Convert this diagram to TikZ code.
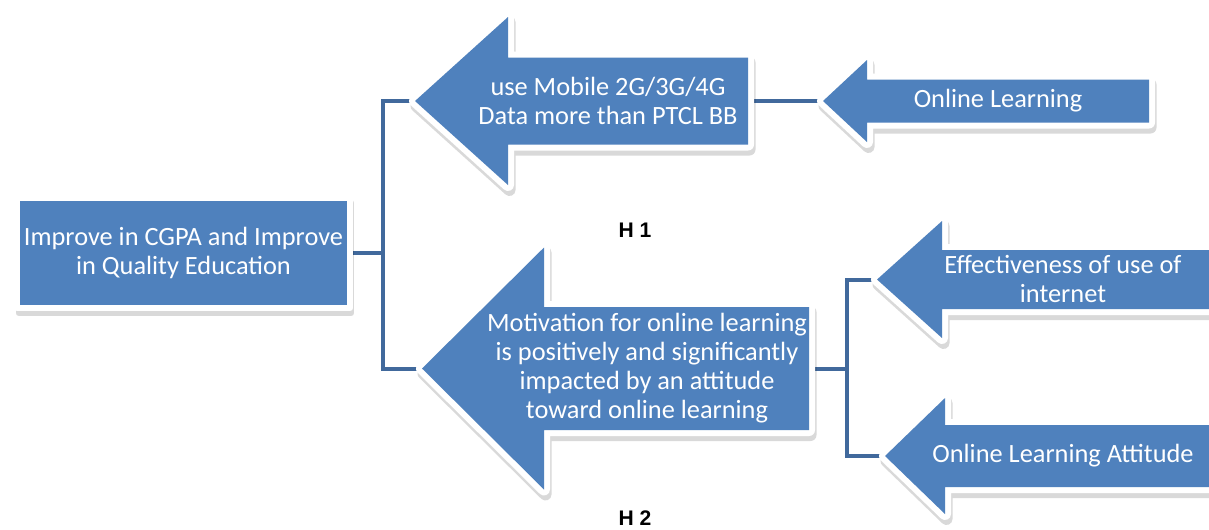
\documentclass[tikz,border=0pt]{standalone}
\usepackage{fontspec}
\setmainfont{Carlito}
\newfontfamily\hypfont{Liberation Sans}
\usepackage{tikz}
\usetikzlibrary{positioning,calc}

\definecolor{boxblue}{HTML}{4F81BD}
\definecolor{linkblue}{HTML}{41699C}

\pgfdeclarelayer{background}
\pgfsetlayers{background,main}

\tikzset{
  halo/.style={preaction={draw=black,draw opacity=0.15,fill=none,line width=#1,line join=round,
      transform canvas={shift={(0.03cm,-0.1cm)}}}},
  arrowedge/.style={halo=0.24cm,draw=white,line width=0.24cm,line join=round},
  goalbox/.style={halo=0.12cm,draw=white,line width=0.12cm,line join=round,fill=boxblue,
      text=white,align=center,inner sep=0pt,minimum width=6.66cm,minimum height=2.2cm,
      font=\fontsize{15}{16.5}\selectfont},
  intext/.style={text=white,align=center,inner sep=0pt,font=\fontsize{15}{16.5}\selectfont},
  link/.style={draw=linkblue,line width=0.08cm},
  hyp/.style={inner sep=0pt,font=\hypfont\bfseries\fontsize{12}{14}\selectfont}
}

% block arrow pointing left: name, tip x, mid y, head x, end x, half shaft, half head
\newcommand{\bigarrow}[7]{%
  \path[arrowedge] (#2,#3) -- (#4,#3-#7) -- (#4,#3-#6) -- (#5,#3-#6) -- (#5,#3+#6)
    -- (#4,#3+#6) -- (#4,#3+#7) -- cycle;
  \fill[boxblue] (#2,#3) -- (#4,#3-#7) -- (#4,#3-#6) -- (#5,#3-#6) -- (#5,#3+#6)
    -- (#4,#3+#6) -- (#4,#3+#7) -- cycle;
  \coordinate (#1-tip) at (#2,#3);
  \coordinate (#1-tail) at (#5,#3);}

\begin{document}
\begin{tikzpicture}[x=0.02cm,y=-0.02cm]
  \path[use as bounding box,clip] (0,0) rectangle (1209,529);

  \node[goalbox] (goal) at (183.5,253) {Improve in CGPA and Improve\\in Quality Education};

  \bigarrow{mob}{415}{101}{508}{748}{43.5}{84}
  \bigarrow{onl}{823}{101}{867}{1149}{21.5}{41}
  \bigarrow{mot}{422}{368.5}{544}{809}{61.5}{121}
  \bigarrow{eff}{877}{279.5}{942}{1240}{29.5}{58.5}
  \bigarrow{att}{885}{456}{945}{1240}{31}{58}

  \node[intext] (mob) at (608,101) {use Mobile 2G/3G/4G\\Data more than PTCL BB};
  \node[intext] (onl) at (998,101) {Online Learning};
  \node[intext] (mot) at (647,368.5) {Motivation for online learning\\is positively and significantly\\impacted by an attitude\\toward online learning};
  \node[intext] (eff) at (1063,278.5) {Effectiveness of use of\\internet};
  \node[intext] (att) at (1063,456) {Online Learning Attitude};

  \node[hyp] (h1) at (635,230) {H 1};
  \node[hyp] (h2) at (635,518) {H 2};

  \begin{pgfonlayer}{background}
    \coordinate (fork1) at (383,253);
    \coordinate (fork2) at (847,368.5);
    \draw[link] (goal.east) -- (fork1);
    \draw[link] (mob-tip) -| (fork1);
    \draw[link] (mot-tip) -| (fork1);
    \draw[link] (mob-tail) -- (onl-tip);
    \draw[link] (mot-tail) -- (fork2);
    \draw[link] (eff-tip) -| (fork2);
    \draw[link] (att-tip) -| (fork2);
  \end{pgfonlayer}
\end{tikzpicture}
\end{document}
